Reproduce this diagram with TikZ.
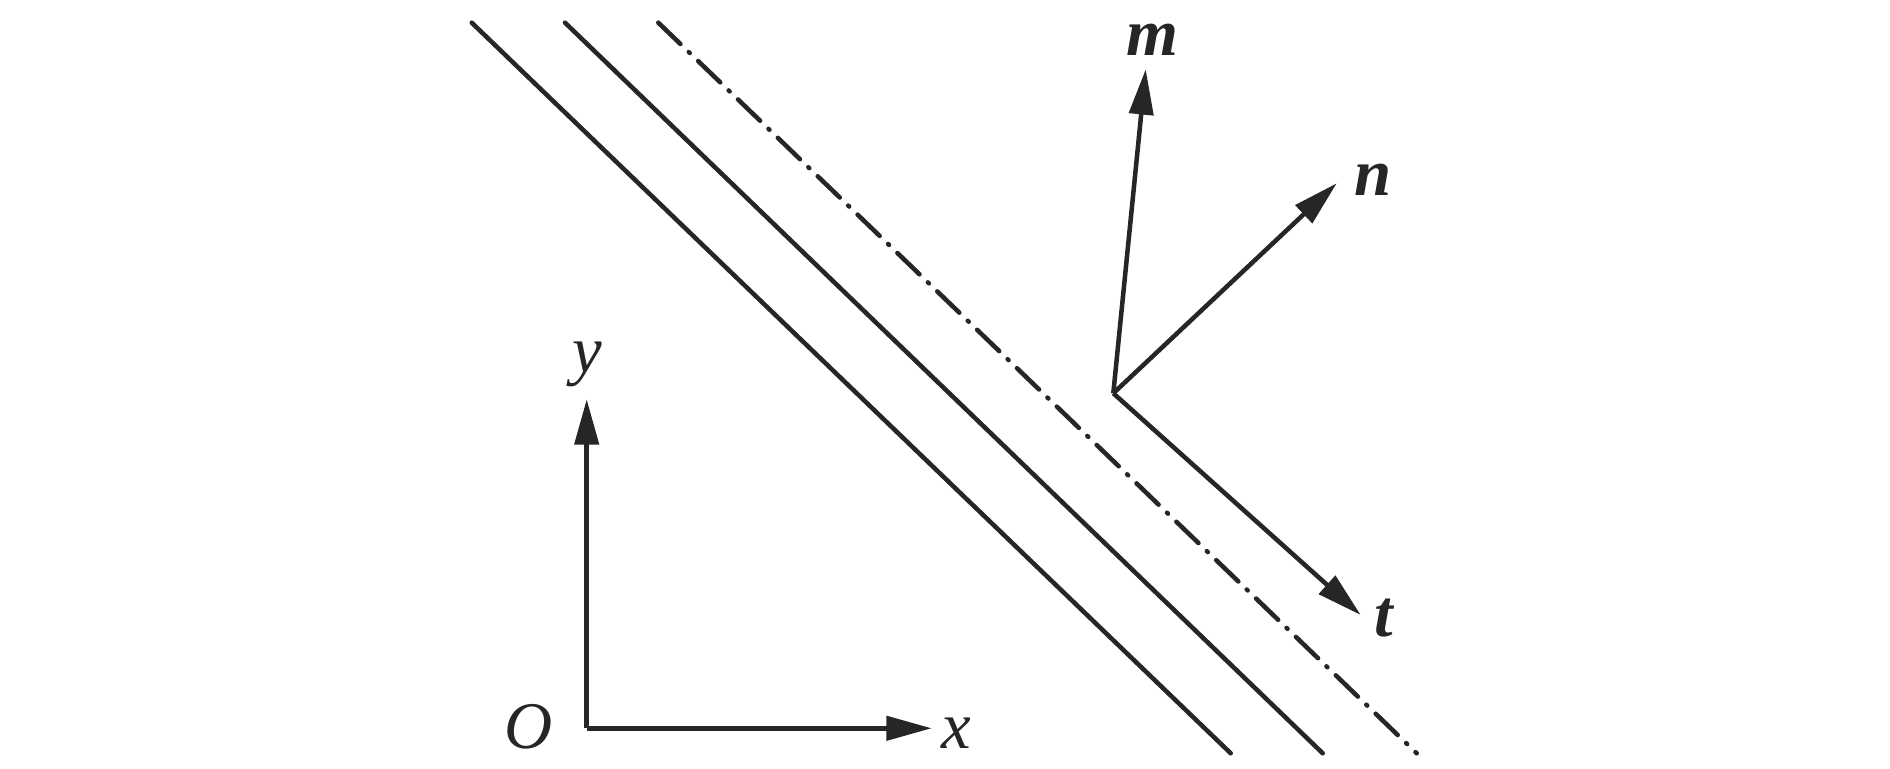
\documentclass[tikz,border=0pt]{standalone}
\usepackage{fontspec}
\setmainfont{Liberation Serif}
\usetikzlibrary{arrows.meta}
\tikzset{
   vect/.style={draw=black!85, line width=0.68pt,
      -{Triangle[length=6.8pt,width=3.6pt]}},
   plane/.style={draw=black!85, line width=0.68pt, line cap=round},
   trace/.style={plane,
      dash pattern=on 4.6pt off 1.75pt on 0.2pt off 1.75pt},
   lab/.style={inner sep=0pt, text=black!85,
      font=\fontsize{10}{12}\selectfont\itshape},
   blab/.style={lab, font=\fontsize{10}{12}\selectfont\bfseries\itshape},
}
\begin{document}
\begin{tikzpicture}[x=0.15pt, y=-0.15pt]
            \useasboundingbox (0,0) rectangle (1890,769);
            % parallel planes
            \draw[plane](471.7,22.7)--(1230.7,753.3);
            \draw[plane](565,22.7)--(1322.7,753.3);
            \draw[trace](658.3,22.7)--(1416.7,753.3);
            % axes
            \coordinate (O) at (586.7,728.3);
            \coordinate (Y) at (586.7,399.3);
            \coordinate (X) at (931.7,728.3);
            \draw[vect](O)--(Y);
            \draw[vect](O)--(X);
            \node[lab] (olab) at (528.3,726.7) {O};
            \node[lab] (xlab) at (956.7,733.3) {x};
            \node[lab] (ylab) at (587,364) {y};
            % vectors m, n, t
            \coordinate (P) at (1113.3,393.3);
            \coordinate (M) at (1145.7,69.3);
            \coordinate (N) at (1336.7,183.3);
            \coordinate (T) at (1360.7,615);
            \draw[vect](P)--(M);
            \draw[vect](P)--(N);
            \draw[vect](P)--(T);
            \node[blab] (mlab) at (1152.3,40) {m};
            \node[blab] (nlab) at (1373.3,180) {n};
            \node[blab] (tlab) at (1383.3,618.3) {t};
        \end{tikzpicture}
\end{document}
